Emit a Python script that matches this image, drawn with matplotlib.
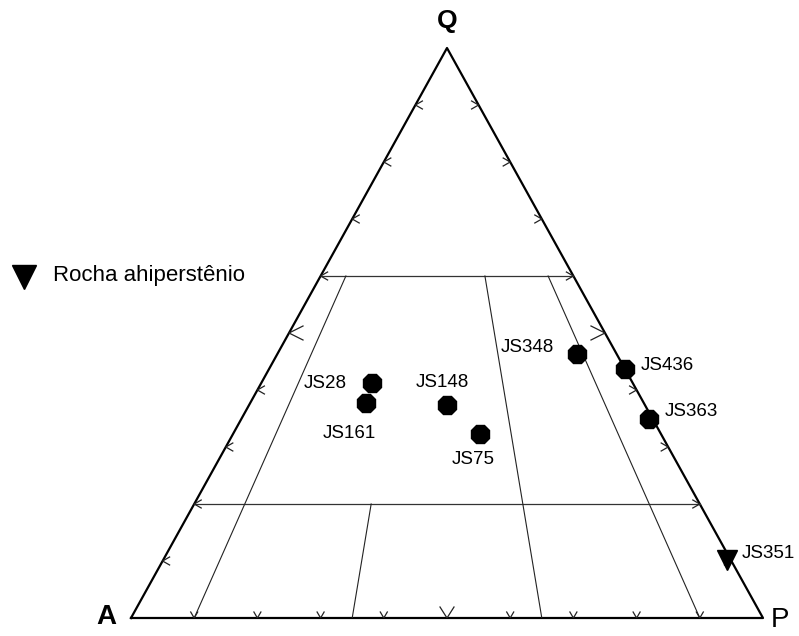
import numpy as np
import matplotlib
matplotlib.use('Agg')
import matplotlib.pyplot as plt
from matplotlib.lines import Line2D

plt.rcParams['font.family'] = ['Liberation Sans', 'DejaVu Sans']

# amostras (Q, A, P em %)
samples = ['JS28', 'JS161', 'JS148', 'JS75', 'JS348', 'JS436', 'JS363']
Q = [41.2, 37.7, 37.4, 32.3, 46.4, 43.6, 35.0]
A = [41.2, 43.9, 31.3, 28.6, 6.2, 0.0, 0.5]
P = [17.6, 18.4, 31.3, 39.1, 47.4, 56.4, 64.5]

# rocha a hiperstenio
hyp_samples = ['JS351']
hyp_Q = [10.2]
hyp_A = [0.6]
hyp_P = [89.2]

# divisoes do diagrama QAP
q_lines = [60, 20]
ratio_lines = [10, 35, 65, 90]          # P/(A+P) %
ratio_top = [60, 20, 60, 60]            # Q onde a linha comeca
edge_ticks = np.arange(10, 100, 10)

W, H = 799, 636
SX, SY = 632, 570   # pixels por unidade no eixo


def tern(q, a, p):
    q, a, p = np.asarray(q, float), np.asarray(a, float), np.asarray(p, float)
    s = q + a + p
    return (p + 0.5 * q) / s, q / s


def chevron(ax, x, y, side, big=False):
    if side == 'bottom':
        L, h = (11, 7) if big else (6, 3.5)
        xs = [x - h / SX, x, x + h / SX]
        ys = [y + L / SY, y, y + L / SY]
    else:
        L, h = (14, 7) if big else (7, 4)
        d = 1 if side == 'left' else -1
        xs = [x + d * L / SX, x, x + d * L / SX]
        ys = [y + h / SY, y, y - h / SY]
    ax.plot(xs, ys, color='#222222', lw=0.9, solid_joinstyle='miter')


fig = plt.figure(figsize=(W / 100, H / 100), dpi=100)
ax = fig.add_axes([131 / W, 18 / H, SX / W, SY / H])
ax.set_xlim(0, 1)
ax.set_ylim(0, 1)
ax.axis('off')

# triangulo
ax.plot([0, 1, 0.5, 0], [0, 0, 1, 0], color='black', lw=1.6, clip_on=False)

# linhas horizontais (Q constante)
for q in q_lines:
    x0, y0 = tern(q, 100 - q, 0)
    x1, y1 = tern(q, 0, 100 - q)
    ax.plot([x0, x1], [y0, y1], color='#333333', lw=0.9)

# linhas P/(A+P)
for r, qt in zip(ratio_lines, ratio_top):
    x0, y0 = tern(qt, (100 - qt) * (1 - r / 100), (100 - qt) * r / 100)
    x1, y1 = tern(0, 100 - r, r)
    ax.plot([x0, x1], [y0, y1], color='#222222', lw=0.8)

# marcas nas bordas
for t in edge_ticks:
    big = t == 50
    xl, yl = tern(t, 100 - t, 0)
    chevron(ax, xl, yl, 'left', big)
    xr, yr = tern(t, 0, 100 - t)
    chevron(ax, xr, yr, 'right', big)
    xb, yb = tern(0, 100 - t, t)
    chevron(ax, xb, yb, 'bottom', big)

# vertices
ax.annotate('Q', (0.5, 1), xytext=(0, 27), textcoords='offset pixels',
            ha='center', va='center', fontsize=19, fontweight='bold')
ax.annotate('A', (0, 0), xytext=(-25, 1), textcoords='offset pixels',
            ha='center', va='center', fontsize=20, fontweight='bold')
ax.annotate('P', (1, 0), xytext=(17, -2), textcoords='offset pixels',
            ha='center', va='center', fontsize=20)

# pontos
xs, ys = tern(Q, A, P)
ax.plot(xs, ys, ls='none', marker='8', ms=14, color='black',
        mec='black', clip_on=False, zorder=5)
hx, hy = tern(hyp_Q, hyp_A, hyp_P)
ax.plot(hx, hy, ls='none', marker='v', ms=14.5, color='black',
        clip_on=False, zorder=5)

label_off = {'JS28': (-47, 0), 'JS161': (-17, -30), 'JS148': (-5, 22),
             'JS75': (-7, -26), 'JS348': (-50, 6), 'JS436': (42, 4),
             'JS363': (42, 7), 'JS351': (41, 6)}
for name, x, y in zip(samples + hyp_samples, list(xs) + list(hx), list(ys) + list(hy)):
    ax.annotate(name, (x, y), xytext=label_off[name], textcoords='offset pixels',
                ha='center', va='center', fontsize=13.5)

# legenda
fig.add_artist(Line2D([24 / W], [1 - 277 / H], transform=fig.transFigure,
                      ls='none', marker='v', ms=17.5, color='black'))
fig.text(53 / W, 1 - 275 / H, 'Rocha ahiperstênio', ha='left', va='center',
         fontsize=16)

fig.savefig('out.png', dpi=100)
